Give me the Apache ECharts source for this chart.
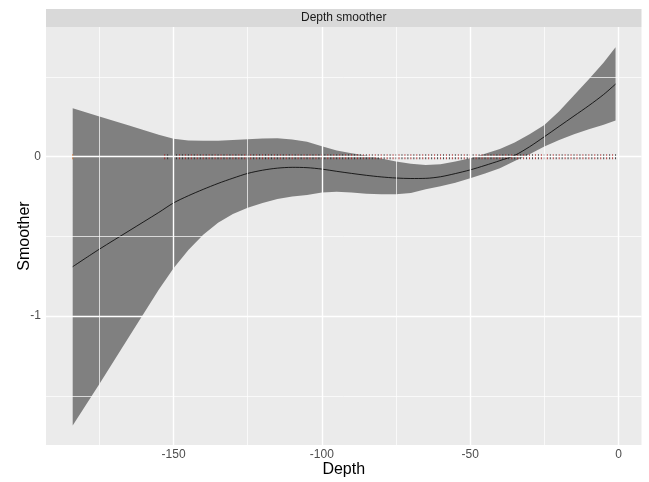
<!DOCTYPE html>
<html>
<head>
<meta charset="utf-8">
<script src="https://cdn.jsdelivr.net/npm/echarts@6/dist/echarts.min.js"></script>
<style>
  html, body { margin: 0; background: #fff; }
  #chart { width: 649px; height: 482px; }
</style>
</head>
<body>
<div id="chart"></div>
<script>
// smoother estimate and its confidence band
var depth = [-184, -175, -165, -155, -150, -145, -140, -135, -130, -125, -120, -115, -110, -105, -100, -95, -90, -85, -80, -75, -70, -65, -60, -55, -50, -45, -40, -35, -30, -25, -20, -15, -10, -5, -1];
var fit = [-0.69, -0.58, -0.465, -0.35, -0.29, -0.245, -0.205, -0.168, -0.135, -0.105, -0.085, -0.072, -0.067, -0.069, -0.078, -0.092, -0.105, -0.117, -0.127, -0.134, -0.137, -0.136, -0.126, -0.106, -0.083, -0.055, -0.025, 0.008, 0.062, 0.125, 0.19, 0.255, 0.32, 0.39, 0.455];
var upper = [0.303, 0.252, 0.195, 0.137, 0.112, 0.101, 0.099, 0.1, 0.104, 0.109, 0.114, 0.115, 0.108, 0.094, 0.065, 0.038, 0.022, 0.008, -0.012, -0.031, -0.045, -0.052, -0.047, -0.03, -0.01, 0.018, 0.048, 0.088, 0.14, 0.199, 0.285, 0.385, 0.486, 0.59, 0.686];
var lower = [-1.686, -1.426, -1.13, -0.835, -0.70, -0.585, -0.49, -0.415, -0.36, -0.32, -0.29, -0.266, -0.25, -0.24, -0.225, -0.22, -0.225, -0.232, -0.235, -0.236, -0.228, -0.205, -0.185, -0.163, -0.136, -0.105, -0.072, -0.028, 0.015, 0.063, 0.105, 0.14, 0.172, 0.2, 0.226];

// observed depths, drawn as marks on the zero line
var obsDepth = [-184, -153, -152,
  -150, -149, -148, -147, -146, -145, -144, -143, -142, -141, -140, -139, -138, -137, -136, -135, -134, -133, -132, -131, -130,
  -129, -128, -127, -126, -125, -124, -123, -122, -121, -120, -119, -118, -117, -116, -115, -114, -113, -112, -111, -110,
  -109, -108, -107, -106, -105, -104, -103, -102, -101, -100, -99, -98, -97, -96, -95, -94, -93, -92, -91, -90,
  -89, -88, -87, -86, -85, -84, -83, -82, -81, -80, -79, -78, -77, -76, -75, -74, -73, -72, -71, -70,
  -69, -68, -67, -66, -65, -64, -63, -62, -61, -60, -59, -58, -57, -56, -55, -54, -53, -52, -51, -50,
  -49, -48, -47, -46, -45, -44, -43, -42, -41, -40, -39, -38, -37, -36, -35, -34, -33, -32, -31, -30,
  -29, -28, -27, -26, -25, -24, -23, -22, -21, -20, -19, -18, -17, -16, -15, -14, -13, -12, -11, -10,
  -9, -8, -7, -6, -5, -4, -3, -2, -1];

var xTicks = [-150, -100, -50, 0];
var xMinor = [-175, -125, -75, -25];
var yTicks = [-1, 0];
var yMinor = [-1.5, -0.5, 0.5];

var chart = echarts.init(document.getElementById('chart'));

var gridLines = [];
xTicks.forEach(function (v) { gridLines.push({ xAxis: v, lineStyle: { width: 1.4 } }); });
xMinor.forEach(function (v) { gridLines.push({ xAxis: v, lineStyle: { width: 0.7 } }); });
yTicks.forEach(function (v) { gridLines.push({ yAxis: v, lineStyle: { width: 1.4 } }); });
yMinor.forEach(function (v) { gridLines.push({ yAxis: v, lineStyle: { width: 0.7 } }); });

var option = {
  animation: false,
  textStyle: { fontFamily: 'Liberation Sans, Arial, sans-serif' },
  grid: {
    left: 46, right: 7.5, top: 27, bottom: 37,
    containLabel: false,
    outerBoundsMode: 'none',
    show: true, backgroundColor: '#EBEBEB', borderWidth: 0
  },
  graphic: [
    {
      type: 'rect',
      shape: { x: 46, y: 9, width: 595.5, height: 18 },
      style: { fill: '#D9D9D9' },
      silent: true
    },
    {
      type: 'text',
      x: 343.7, y: 18,
      style: {
        text: 'Depth smoother', fill: '#1A1A1A', fontSize: 12,
        fontFamily: 'Liberation Sans, Arial, sans-serif',
        align: 'center', verticalAlign: 'middle'
      },
      silent: true
    }
  ],
  xAxis: {
    type: 'value',
    min: -193.0, max: 7.75,
    name: 'Depth', nameLocation: 'middle', nameGap: 17,
    nameMoveOverlap: false,
    nameTextStyle: { fontSize: 16, color: '#000' },
    axisLine: { show: false },
    axisTick: { show: true, customValues: xTicks, length: 3, lineStyle: { color: '#333' } },
    axisLabel: { customValues: xTicks, color: '#4D4D4D', fontSize: 12, margin: 4 },
    splitLine: { show: false }
  },
  yAxis: {
    type: 'value',
    min: -1.808, max: 0.813,
    name: 'Smoother', nameLocation: 'middle', nameGap: 13,
    nameMoveOverlap: false,
    nameTextStyle: { fontSize: 16, color: '#000' },
    axisLine: { show: false },
    axisTick: { show: true, customValues: yTicks, length: 3, lineStyle: { color: '#333' } },
    axisLabel: { customValues: yTicks, color: '#4D4D4D', fontSize: 12, margin: 5 },
    splitLine: { show: false }
  },
  series: [
    {
      // panel grid lines
      type: 'line',
      data: [],
      z: 1,
      silent: true,
      markLine: {
        silent: true,
        symbol: 'none',
        label: { show: false },
        lineStyle: { color: '#FFFFFF', type: 'solid' },
        data: gridLines
      }
    },
    {
      // confidence band
      type: 'custom',
      z: 2,
      silent: true,
      data: [[depth[0], fit[0]]],
      renderItem: function (params, api) {
        var pts = [];
        for (var i = 0; i < depth.length; i++) pts.push(api.coord([depth[i], upper[i]]));
        for (var j = depth.length - 1; j >= 0; j--) pts.push(api.coord([depth[j], lower[j]]));
        return {
          type: 'polygon',
          shape: { points: pts },
          style: { fill: 'rgba(70,70,70,0.65)' }
        };
      }
    },
    {
      type: 'scatter',
      z: 3,
      silent: true,
      symbol: 'rect',
      symbolSize: [1, 5],
      data: obsDepth.map(function (d) { return [d, 0]; }),
      itemStyle: {
        color: function (p) { return p.dataIndex === 0 ? '#D2691E' : (p.dataIndex % 2 ? '#A01010' : '#1A1A1A'); }
      }
    },
    {
      type: 'line',
      z: 4,
      silent: true,
      smooth: 0.3,
      showSymbol: false,
      data: depth.map(function (d, i) { return [d, fit[i]]; }),
      lineStyle: { color: '#000', width: 0.8 }
    }
  ]
};

chart.setOption(option);
</script>
</body>
</html>
